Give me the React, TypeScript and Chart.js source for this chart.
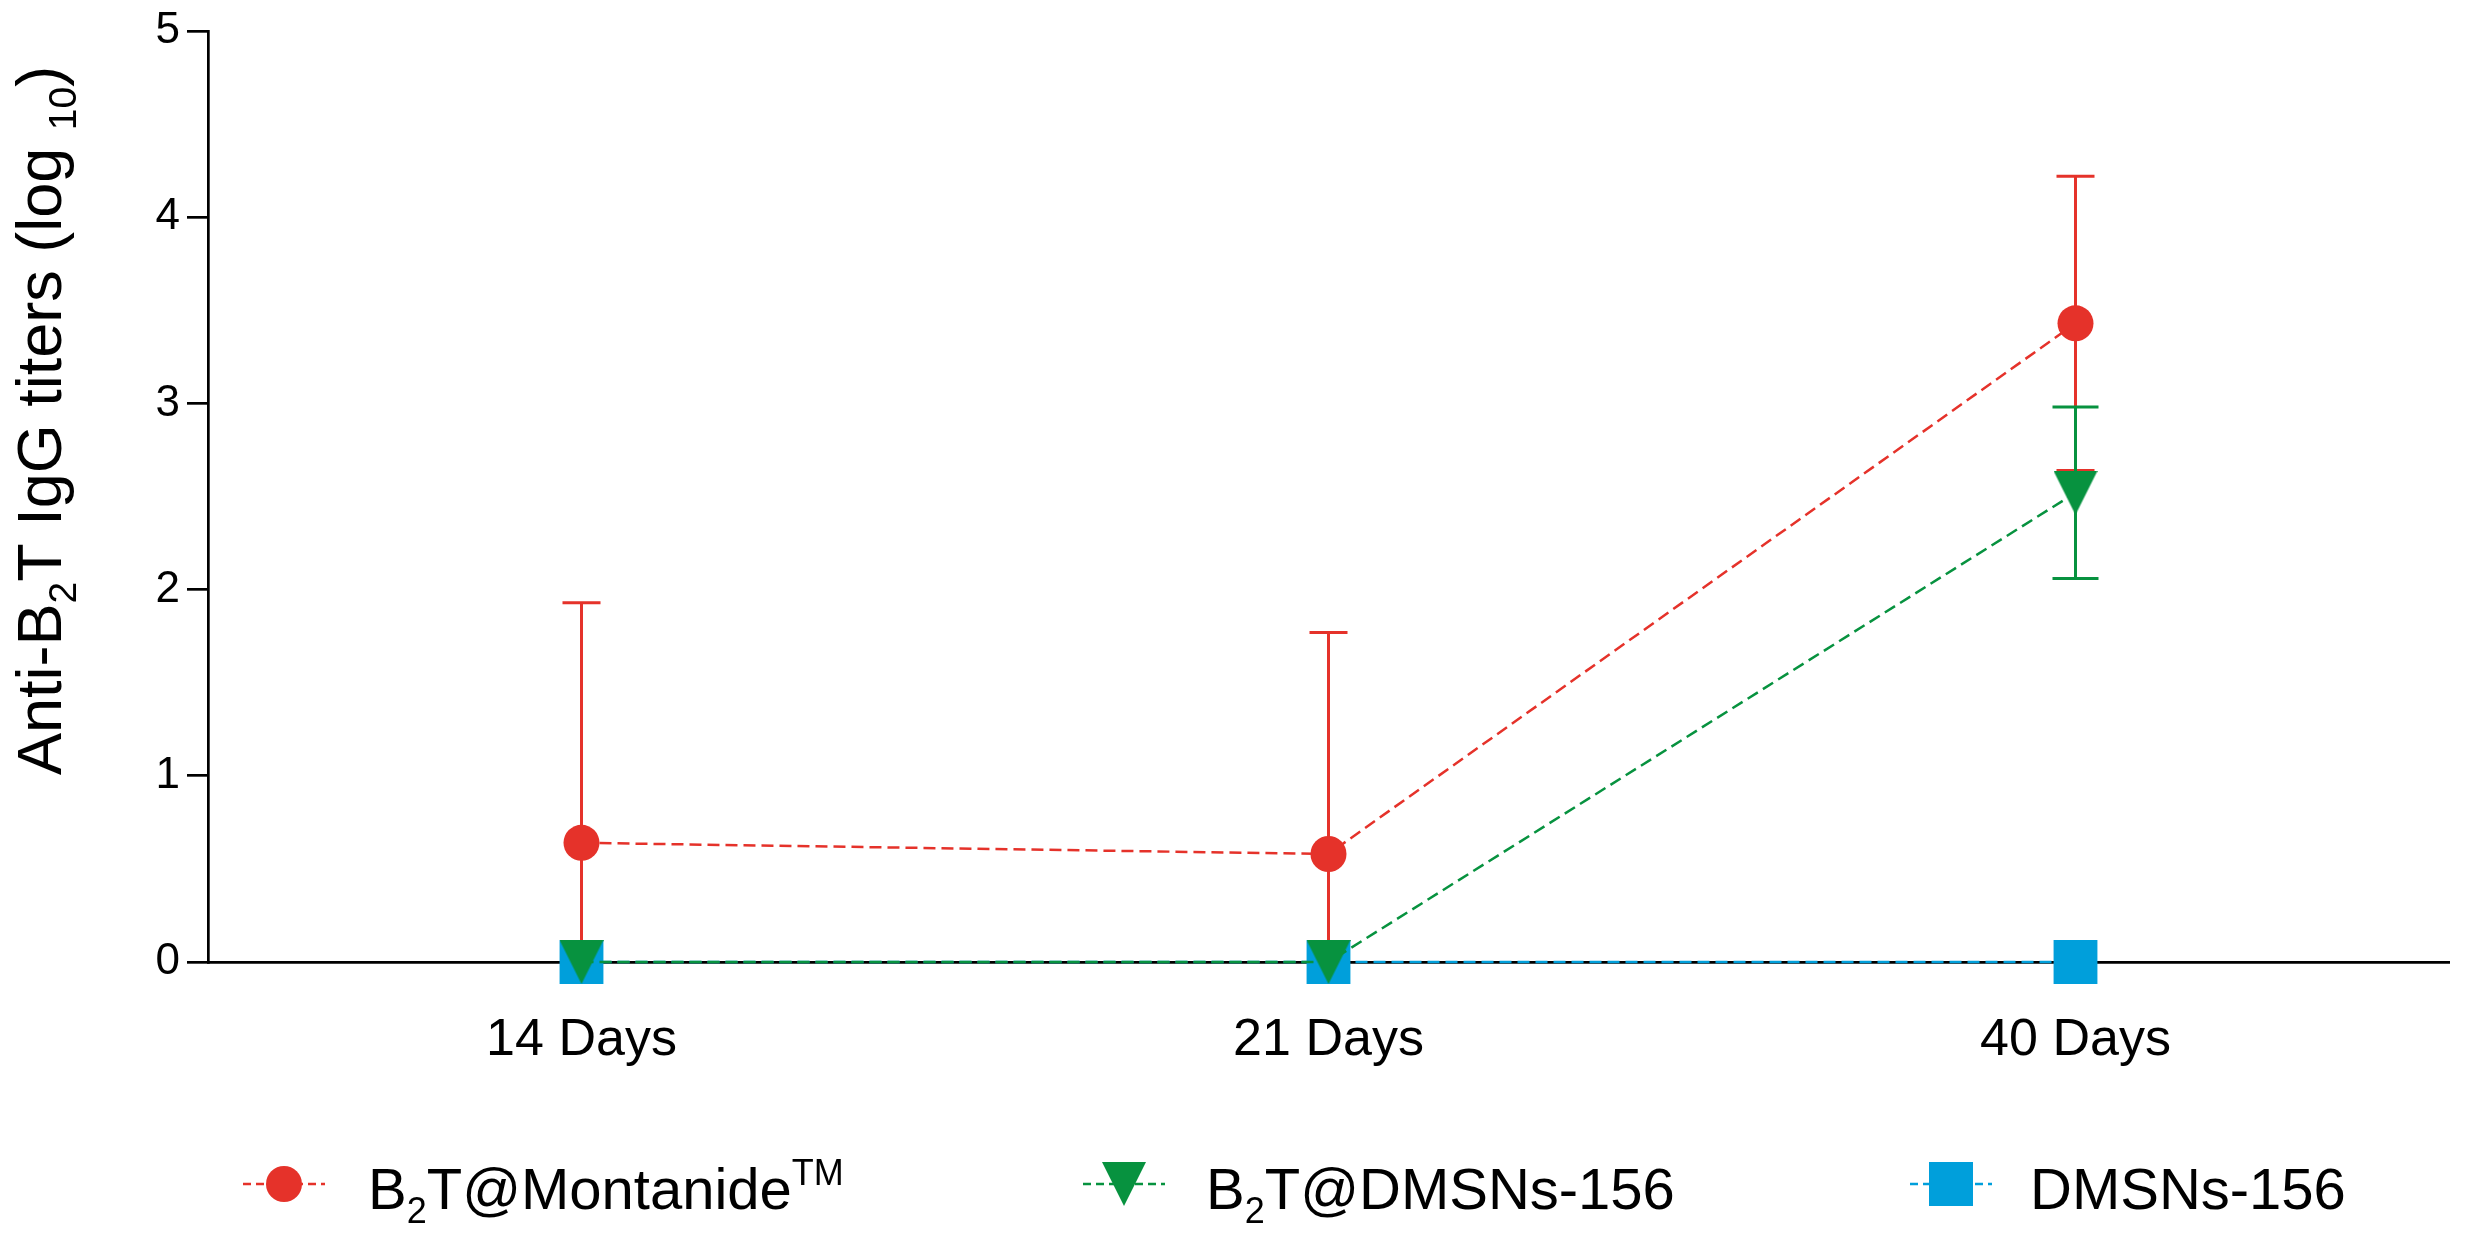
import React, { useEffect, useRef } from 'react';
import { Chart, registerables } from 'chart.js';

Chart.register(...registerables);

// ---- Data ----
const categories = ['14 Days', '21 Days', '40 Days'];
const montanideMean = [0.64, 0.58, 3.43];
const montanideSD = [1.29, 1.19, 0.79];
const b2tDmsnMean = [0, 0, 2.52];
const b2tDmsnSD = [0, 0, 0.46];
const dmsnMean = [0, 0, 0];
const dmsnSD = [0, 0, 0];
const yMin = 0;
const yMax = 5;
const yStep = 1;

type Seg = { t: string; sub?: boolean; sup?: boolean };
const legendMontanide: Seg[] = [{ t: 'B' }, { t: '2', sub: true }, { t: 'T@Montanide' }, { t: 'TM', sup: true }];
const legendB2TDmsn: Seg[] = [{ t: 'B' }, { t: '2', sub: true }, { t: 'T@DMSNs-156' }];
const legendDmsn: Seg[] = [{ t: 'DMSNs-156' }];
const yTitle: Seg[] = [
  { t: 'Anti-B' }, { t: '2', sub: true }, { t: 'T IgG titers (log ' }, { t: '10', sub: true }, { t: ')' },
];

// ---- Styles ----
const RED = '#E5322A';
const GREEN = '#07923F';
const BLUE = '#009FDB';
const FONT = '"Liberation Sans", Arial, sans-serif';

function makeTriangle(size: number, color: string): HTMLCanvasElement {
  const c = document.createElement('canvas');
  c.width = size;
  c.height = size;
  const g = c.getContext('2d')!;
  g.fillStyle = color;
  g.beginPath();
  g.moveTo(0, 0);
  g.lineTo(size, 0);
  g.lineTo(size / 2, size);
  g.closePath();
  g.fill();
  return c;
}

function drawRich(ctx: CanvasRenderingContext2D, segs: Seg[], x: number, y: number, size: number, measureOnly = false): number {
  let cx = x;
  for (const s of segs) {
    const fs = s.sub || s.sup ? Math.round(size * 0.62) : size;
    ctx.font = `${fs}px ${FONT}`;
    const dy = s.sub ? size * 0.24 : s.sup ? -size * 0.42 : 0;
    if (!measureOnly) ctx.fillText(s.t, cx, y + dy);
    cx += ctx.measureText(s.t).width;
  }
  return cx - x;
}

export default function App() {
  const ref = useRef<HTMLCanvasElement>(null);

  useEffect(() => {
    if (!ref.current) return;
    const tri = makeTriangle(44, GREEN);

    const errorSets = [
      { mean: montanideMean, sd: montanideSD, color: RED, cap: 19 },
      { mean: b2tDmsnMean, sd: b2tDmsnSD, color: GREEN, cap: 23 },
      { mean: dmsnMean, sd: dmsnSD, color: BLUE, cap: 23 },
    ];

    const errorBarPlugin = {
      id: 'errorBars',
      beforeDatasetsDraw(chart: any) {
        const ctx = chart.ctx as CanvasRenderingContext2D;
        const xs = chart.scales.x;
        const ys = chart.scales.y;
        for (const e of errorSets) {
          e.mean.forEach((m, i) => {
            const sd = e.sd[i];
            if (!sd) return;
            const px = xs.getPixelForValue(i);
            const top = ys.getPixelForValue(m + sd);
            const lowVal = Math.max(m - sd, yMin);
            const bot = ys.getPixelForValue(lowVal);
            ctx.save();
            ctx.strokeStyle = e.color;
            ctx.lineWidth = 3;
            ctx.beginPath();
            ctx.moveTo(px, top);
            ctx.lineTo(px, bot);
            ctx.moveTo(px - e.cap, top);
            ctx.lineTo(px + e.cap, top);
            if (m - sd > yMin) {
              ctx.moveTo(px - e.cap, bot);
              ctx.lineTo(px + e.cap, bot);
            }
            ctx.stroke();
            ctx.restore();
          });
        }
      },
    };

    const legendItems = [
      { segs: legendMontanide, color: RED, kind: 'circle', mx: 284, tx: 368 },
      { segs: legendB2TDmsn, color: GREEN, kind: 'tri', mx: 1124, tx: 1206 },
      { segs: legendDmsn, color: BLUE, kind: 'rect', mx: 1951, tx: 2030 },
    ];

    const textPlugin = {
      id: 'customText',
      afterDraw(chart: any) {
        const ctx = chart.ctx as CanvasRenderingContext2D;
        ctx.save();
        ctx.fillStyle = '#000';
        ctx.textBaseline = 'alphabetic';
        ctx.textAlign = 'left';
        // y-axis title
        const tsize = 63;
        ctx.save();
        ctx.translate(61, 775);
        ctx.rotate(-Math.PI / 2);
        drawRich(ctx, yTitle, 0, 0, tsize);
        ctx.restore();

        // legend
        const my = 1184;
        const base = 1209;
        for (const it of legendItems) {
          ctx.save();
          ctx.strokeStyle = it.color;
          ctx.lineWidth = 2.5;
          ctx.setLineDash([8, 5]);
          ctx.beginPath();
          ctx.moveTo(it.mx - 41, my);
          ctx.lineTo(it.mx + 41, my);
          ctx.stroke();
          ctx.restore();
          ctx.fillStyle = it.color;
          if (it.kind === 'circle') {
            ctx.beginPath();
            ctx.arc(it.mx, my, 18, 0, Math.PI * 2);
            ctx.fill();
          } else if (it.kind === 'tri') {
            ctx.drawImage(tri, it.mx - 22, my - 22);
          } else {
            ctx.fillRect(it.mx - 22, my - 22, 44, 44);
          }
          ctx.fillStyle = '#000';
          drawRich(ctx, it.segs, it.tx, base, 58);
        }
        ctx.restore();
      },
    };

    const chart = new Chart(ref.current, {
      type: 'line',
      data: {
        labels: categories,
        datasets: [
          {
            label: 'B2T@Montanide TM',
            data: montanideMean,
            borderColor: RED,
            backgroundColor: RED,
            borderWidth: 2.5,
            borderDash: [12, 6],
            pointStyle: 'circle',
            pointRadius: 18,
            pointBorderWidth: 0,
            pointBackgroundColor: RED,
            clip: false as any,
          },
          {
            label: 'B2T@DMSNs-156',
            data: b2tDmsnMean,
            borderColor: GREEN,
            backgroundColor: GREEN,
            borderWidth: 2.5,
            borderDash: [12, 6],
            pointStyle: tri as any,
            pointRadius: 22,
            pointBorderWidth: 0,
            clip: false as any,
          },
          {
            label: 'DMSNs-156',
            data: dmsnMean,
            borderColor: BLUE,
            backgroundColor: BLUE,
            borderWidth: 2.5,
            borderDash: [12, 6],
            pointStyle: 'rect',
            pointRadius: 31,
            pointBorderWidth: 0,
            pointBackgroundColor: BLUE,
            clip: false as any,
          },
        ],
      },
      options: {
        responsive: false,
        animation: false,
        devicePixelRatio: 1,
        events: [],
        layout: { padding: { top: 23, right: 13, left: 0, bottom: 0 } },
        plugins: { legend: { display: false }, tooltip: { enabled: false }, title: { display: false } },
        scales: {
          x: {
            type: 'category',
            offset: true,
            grid: { display: false, drawTicks: false },
            border: { display: true, color: '#000', width: 2.7 },
            ticks: {
              color: '#000',
              padding: 47,
              font: { family: FONT, size: 52 },
              maxRotation: 0,
              autoSkip: false,
            },
            afterFit: (s: any) => { s.height = 278; },
          },
          y: {
            min: yMin,
            max: yMax,
            grid: { display: true, drawOnChartArea: false, drawTicks: true, tickLength: 21, color: '#000', lineWidth: 2.7 },
            border: { display: true, color: '#000', width: 2.7 },
            ticks: {
              stepSize: yStep,
              color: '#000',
              padding: 7,
              font: { family: FONT, size: 44, lineHeight: 1 },
            },
            afterFit: (s: any) => { s.width = 208; },
          },
        },
      },
      plugins: [errorBarPlugin, textPlugin],
    });
    return () => chart.destroy();
  }, []);

  return (
    <div style={{ position: 'absolute', left: 0, top: 0, width: 2480, height: 1240, background: '#fff' }}>
      <canvas ref={ref} width={2480} height={1240} style={{ width: 2480, height: 1240, display: 'block' }} />
    </div>
  );
}
